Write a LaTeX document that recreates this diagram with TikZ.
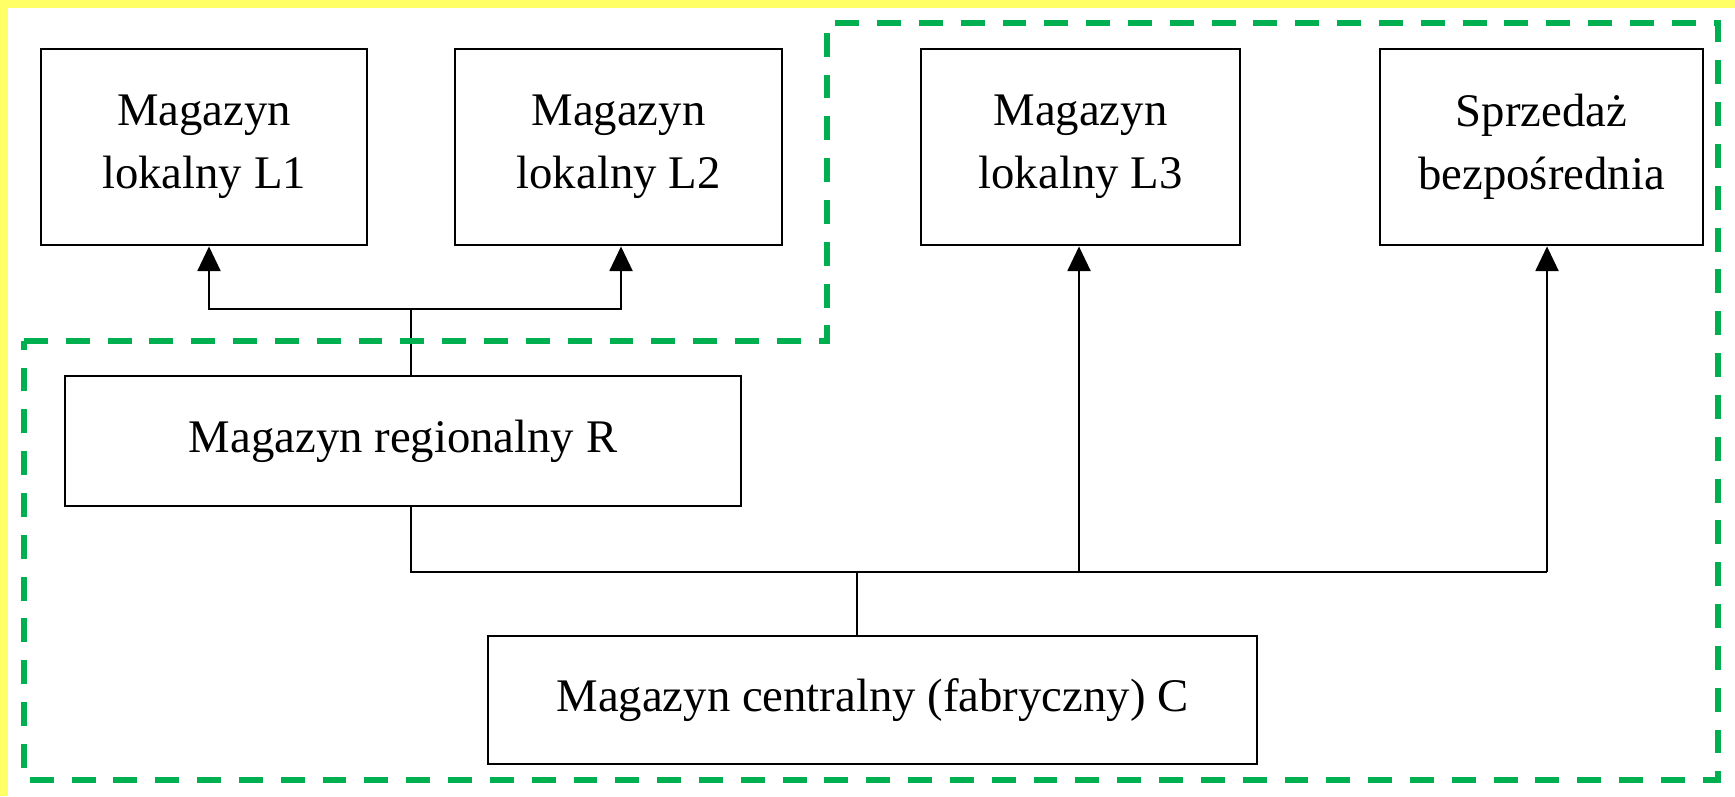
\documentclass[tikz,border=0pt]{standalone}
\usepackage{fontspec}
\setmainfont{Liberation Serif}
\usetikzlibrary{arrows.meta}
\definecolor{zonegreen}{RGB}{0,176,80}
\definecolor{edgeyellow}{RGB}{255,255,102}

\begin{document}
\begin{tikzpicture}[
  box/.style={draw, line width=0.8pt, align=center, inner sep=0pt, font=\fontsize{13.3}{18}\selectfont},
  link/.style={line width=0.7pt},
  up/.style={link, -{Triangle[width=6.5pt,length=7pt]}},
  zone/.style={draw=zonegreen, line width=1.7pt, dash pattern=on 6.8pt off 5.1pt}]
\useasboundingbox (0,0) rectangle (17.35,7.96);
\fill[white] (0,0) rectangle (17.35,7.96);
\fill[edgeyellow] (0,7.88) rectangle (17.35,7.96);
\fill[edgeyellow] (0,0) rectangle (0.08,7.96);
% Top row: local warehouses and direct sales
\node[box, minimum width=3.26cm, minimum height=1.96cm] (L1) at (2.04,6.49) {Magazyn\\lokalny L1};
\node[box, minimum width=3.27cm, minimum height=1.96cm] (L2) at (6.185,6.49) {Magazyn\\lokalny L2};
\node[box, minimum width=3.19cm, minimum height=1.96cm] (L3) at (10.805,6.49) {Magazyn\\lokalny L3};
\node[box, minimum width=3.23cm, minimum height=1.96cm] (S) at (15.415,6.49) {Sprzedaż\\bezpośrednia};
% Regional and central warehouses
\node[box, minimum width=6.76cm, minimum height=1.30cm] (R) at (4.03,3.55) {Magazyn regionalny R};
\node[box, minimum width=7.69cm, minimum height=1.28cm] (C) at (8.725,0.96) {Magazyn centralny (fabryczny) C};
% Branch points
\coordinate (top) at (4.11,4.87);
\coordinate (a1) at (2.09,4.87);
\coordinate (a2) at (6.21,4.87);
\coordinate (bus) at (8.57,2.24);
\coordinate (b0) at (4.11,2.24);
\coordinate (b3) at (10.79,2.24);
\coordinate (b4) at (15.47,2.24);
% R -> L1, L2
\draw[link] (top |- R.north) -- (top);
\draw[up] (top) -- (a1) -- (a1 |- L1.south);
\draw[up] (top) -- (a2) -- (a2 |- L2.south);
% C -> R, L3, S
\draw[link] (bus |- C.north) -- (bus);
\draw[link] (b0 |- R.south) -- (b0) -- (b4);
\draw[up] (b3) -- (b3 |- L3.south);
\draw[up] (b4) -- (b4 |- S.south);
% Dashed zone
\draw[zone] (0.24,4.55) -- (8.27,4.55) -- (8.27,7.73) -- (17.18,7.73) -- (17.18,0.16) -- (0.24,0.16) -- cycle;
\end{tikzpicture}
\end{document}
